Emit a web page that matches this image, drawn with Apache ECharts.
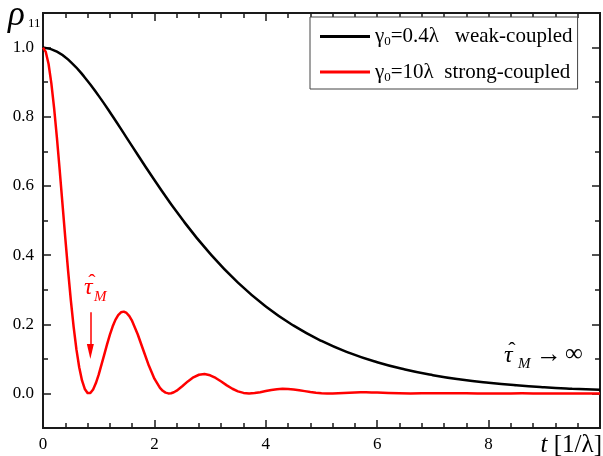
<!DOCTYPE html>
<html>
<head>
<meta charset="utf-8">
<script src="https://cdn.jsdelivr.net/npm/echarts@6/dist/echarts.min.js"></script>
<style>
html,body{margin:0;padding:0;background:#fff;}
#c{width:603px;height:456px;}
</style>
</head>
<body>
<div id="c"></div>
<script>
// ---- data ----
var weakT = [0, 0.25, 0.5, 0.75, 1.0, 1.25, 1.5, 2.0, 2.5, 3.0, 3.5, 4.0, 4.5, 5.0, 5.5, 6.0, 6.5, 7.0, 7.5, 8.0, 8.5, 9.0, 9.5, 10];
var weakRho = [1.0, 0.9885, 0.9580, 0.9137, 0.8604, 0.8014, 0.7398, 0.6171, 0.5033, 0.4040, 0.3202, 0.2514, 0.1959, 0.1518, 0.1172, 0.0901, 0.0691, 0.0528, 0.0403, 0.0308, 0.0234, 0.0178, 0.0136, 0.0103];

var strongT = [0, 0.05, 0.1, 0.15, 0.2, 0.25, 0.3, 0.35, 0.4, 0.45, 0.5, 0.55, 0.6, 0.65, 0.7, 0.75, 0.8, 0.85, 0.9, 0.95, 1.0,
  1.1, 1.15, 1.2, 1.25, 1.3, 1.35, 1.4, 1.45, 1.5, 1.55, 1.6, 1.7, 1.8, 1.9, 2.0,
  2.1, 2.15, 2.2, 2.25, 2.3, 2.35, 2.4, 2.5, 2.6, 2.7, 2.8, 2.9, 3.0, 3.1, 3.2, 3.3, 3.4, 3.5, 3.6, 3.7, 3.8, 3.9, 4.0,
  4.1, 4.2, 4.3, 4.4, 4.5, 4.6, 4.7, 4.8, 4.9, 5.0, 5.1, 5.2, 5.3, 5.4, 5.5, 5.6, 5.7, 5.8, 5.9, 6.0,
  6.2, 6.4, 6.6, 6.8, 7.0, 7.2, 7.4, 7.6, 7.8, 8.0, 8.2, 8.4, 8.6, 8.8, 9.0, 9.2, 9.4, 9.6, 9.8, 10];
var strongRho = [1.0, 0.9875, 0.9524, 0.8967, 0.8242, 0.7390, 0.6453, 0.5475, 0.4497, 0.3558, 0.2691, 0.1923, 0.1273, 0.0755, 0.0374, 0.0129, 0.0013, 0.0014, 0.0116, 0.0298, 0.0541,
  0.1121, 0.1416, 0.1692, 0.1932, 0.2126, 0.2265, 0.2345, 0.2365, 0.2326, 0.2234, 0.2095, 0.1712, 0.1255, 0.0805, 0.0427,
  0.0161, 0.0076, 0.0024, 0.0001, 0.0006, 0.0034, 0.0080, 0.0206, 0.0347, 0.0466, 0.0540, 0.0559, 0.0524, 0.0446, 0.0343, 0.0233, 0.0135, 0.0060, 0.0015, 0.0000, 0.0010, 0.0035, 0.0068,
  0.0100, 0.0122, 0.0132, 0.0129, 0.0114, 0.0092, 0.0066, 0.0041, 0.0021, 0.0007, 0.0001, 0.0001, 0.0006, 0.0013, 0.0021, 0.0027, 0.0031, 0.0031, 0.0029, 0.0024,
  0.0012, 0.0003, 0.0000, 0.0002, 0.0006, 0.0007, 0.0006, 0.0003, 0.0001, 0.0000, 0.0001, 0.0001, 0.0002, 0.0001, 0.0001, 0.0000, 0.0000, 0.0000, 0.0000, 0.0000];

var xTicks = [0, 2, 4, 6, 8];
var yMajor = [0, 0.2, 0.4, 0.6, 0.8, 1.0];
var yMinor = [-0.1, 0.1, 0.3, 0.5, 0.7, 0.9, 1.1];

var weakName = 'γ0=0.4λ   weak-coupled';
var strongName = 'γ0=10λ  strong-coupled';

// arrow annotation (data coords): shaft top, shaft end, arrowhead centre
var arrowX = 0.85, arrowY0 = 0.235, arrowY1 = 0.135, arrowHeadY = 0.121;

function pairs(xs, ys) { return xs.map(function (x, i) { return [x, ys[i]]; }); }

var SERIF = '"Liberation Serif", "Times New Roman", serif';
var AX = '#1a1a1a';

function yAx(pos, vals, len, labels) {
  return {
    type: 'value', position: pos, min: -0.1, max: 1.1,
    axisLine: { show: true, onZero: false, lineStyle: { color: AX, width: 2 } },
    axisTick: { show: true, inside: true, length: len, customValues: vals, lineStyle: { color: AX, width: 1.5 } },
    axisLabel: labels ? { show: true, customValues: yMajor, margin: 9, fontFamily: SERIF, fontSize: 17, color: '#000',
      formatter: function (v) { return v.toFixed(1); } } : { show: false },
    splitLine: { show: false }
  };
}
function xAx(pos, labels) {
  return {
    type: 'value', position: pos, min: 0, max: 10, interval: 2,
    axisLine: { show: true, onZero: false, lineStyle: { color: AX, width: 2 } },
    axisTick: { show: true, inside: true, length: 8, lineStyle: { color: AX, width: 1.5 } },
    minorTick: { show: true, splitNumber: 5, length: 5, lineStyle: { color: AX, width: 1.5 } },
    axisLabel: labels ? { show: true, margin: 8, fontFamily: SERIF, fontSize: 17, color: '#000',
      formatter: function (v) { return xTicks.indexOf(v) >= 0 ? String(v) : ''; } } : { show: false },
    splitLine: { show: false }, minorSplitLine: { show: false }
  };
}

function txt(x, y, s, size, color, italic, align) {
  return { type: 'text', x: x, y: y, z: 100, style: { text: s, fontFamily: SERIF, fontSize: size, fill: color,
    fontStyle: italic ? 'italic' : 'normal', align: align || 'left', verticalAlign: 'middle' } };
}

var chart = echarts.init(document.getElementById('c'), null, { renderer: 'canvas' });
chart.setOption({
  animation: false,
  backgroundColor: '#fff',
  grid: { left: 43, right: 1, top: 13, bottom: 28, containLabel: false },
  xAxis: [xAx('bottom', true), xAx('top', false)],
  yAxis: [yAx('left', yMajor, 8, true), yAx('left', yMinor, 5, false), yAx('right', yMajor, 8, false), yAx('right', yMinor, 5, false)],
  legend: {
    left: 310, top: 17, orient: 'vertical',
    padding: [9, 5, 5, 10], itemGap: 13,
    itemWidth: 50, itemHeight: 3, icon: 'rect',
    borderColor: '#444', borderWidth: 1, backgroundColor: '#fff',
    data: [{ name: weakName }, { name: strongName }],
    formatter: function (name) {
      var i = name.indexOf('0');
      return '{a|γ}{s|0}{a|' + name.slice(i + 1) + '}';
    },
    textStyle: {
      rich: {
        a: { fontFamily: SERIF, fontSize: 21, color: '#000', lineHeight: 24 },
        s: { fontFamily: SERIF, fontSize: 13, color: '#000', lineHeight: 24, verticalAlign: 'bottom', padding: [9, 0, 0, 0] }
      }
    }
  },
  series: [
    { name: weakName, type: 'line', data: pairs(weakT, weakRho), smooth: true, showSymbol: false, symbol: 'none',
      lineStyle: { color: '#000', width: 2.5 }, itemStyle: { color: '#000' }, z: 3 },
    { name: strongName, type: 'line', data: pairs(strongT, strongRho), smooth: false, showSymbol: false, symbol: 'none',
      lineStyle: { color: '#ff0000', width: 2.5, join: 'round' }, itemStyle: { color: '#ff0000' }, z: 4,
      markLine: { silent: true, symbol: ['none', 'none'], animation: false,
        label: { show: false }, lineStyle: { color: '#ff0000', width: 1.5, type: 'solid' },
        data: [[{ coord: [arrowX, arrowY0] }, { coord: [arrowX, arrowY1] }]] },
      markPoint: { silent: true, animation: false, symbol: 'path://M0,0L8,0L4,16Z', symbolSize: [7, 15],
        itemStyle: { color: '#ff0000' }, label: { show: false },
        data: [{ coord: [arrowX, arrowHeadY] }] } }
  ],
  graphic: [
    // y axis name  rho_11
    txt(8, 16, 'ρ', 35, '#000', true),
    txt(28, 24, '11', 13, '#000', false),
    // x axis name
    { type: 'text', x: 602, y: 445, z: 100, style: { text: '{i|t}{n| [1/λ]}', align: 'right', verticalAlign: 'middle', rich: {
        i: { fontFamily: SERIF, fontStyle: 'italic', fontSize: 25, fill: '#000' },
        n: { fontFamily: SERIF, fontSize: 25, fill: '#000' } } } },
    // red tau-hat_M
    txt(84, 288, 'τ', 24, '#ff0000', true),
    txt(92, 283, 'ˆ', 22, '#ff0000', false, 'center'),
    txt(94, 297, 'M', 15, '#ff0000', true),
    // black tau-hat_M -> infinity
    txt(504, 356, 'τ', 24, '#000', true),
    txt(512, 351, 'ˆ', 22, '#000', false, 'center'),
    txt(518, 364, 'M', 15, '#000', true),
    txt(536, 355, '→', 26, '#000', false),
    txt(565, 354, '∞', 25, '#000', false)
  ]
});
</script>
</body>
</html>
